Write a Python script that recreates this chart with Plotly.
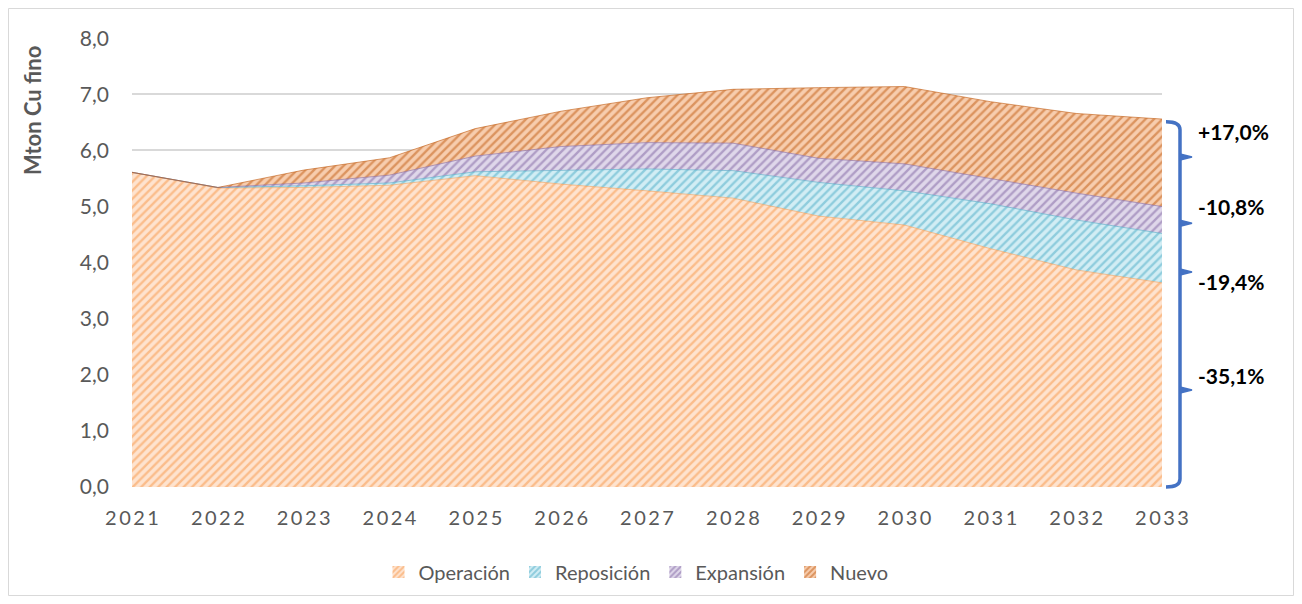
import plotly.graph_objects as go

years = [2021, 2022, 2023, 2024, 2025, 2026, 2027, 2028, 2029, 2030, 2031, 2032, 2033]
operacion = [5.61, 5.33, 5.34, 5.38, 5.55, 5.40, 5.28, 5.15, 4.83, 4.67, 4.25, 3.87, 3.64]
reposicion = [0.00, 0.01, 0.03, 0.04, 0.07, 0.25, 0.39, 0.49, 0.60, 0.61, 0.80, 0.89, 0.88]
expansion = [0.00, 0.00, 0.05, 0.14, 0.28, 0.42, 0.47, 0.49, 0.43, 0.48, 0.45, 0.48, 0.48]
nuevo = [0.00, 0.00, 0.23, 0.31, 0.49, 0.63, 0.80, 0.96, 1.26, 1.38, 1.37, 1.42, 1.56]

series_names = ["Operación", "Reposición", "Expansión", "Nuevo"]
fg_colors = ["#F79646", "#4BACC6", "#8064A2", "#C05A0F"]
bg_colors = ["#FEE3CF", "#D2EDF4", "#DFD7EA", "#F7CDAE"]
edge_colors = ["rgba(247,150,70,0.55)", "rgba(75,172,198,0.6)", "rgba(128,100,162,0.6)", "rgba(192,90,15,0.6)"]

pct_labels = ["+17,0%", "-10,8%", "-19,4%", "-35,1%"]
pct_label_px = [131.7, 206.7, 281.7, 375.0]

year_ticktext = ["\u2009".join(str(y)) for y in years]

GRAY = "#595959"
FONT = "Lato"

fig = go.Figure()
for name, vals, fg, bg, ec in zip(series_names, [operacion, reposicion, expansion, nuevo],
                                  fg_colors, bg_colors, edge_colors):
    fig.add_trace(go.Scatter(
        x=years, y=vals, name=name, mode="lines", stackgroup="one",
        line=dict(width=1, color=ec),
        fillcolor=bg,
        fillpattern=dict(shape="/", fgcolor=fg, bgcolor=bg, size=6, solidity=0.4),
        showlegend=False, hoverinfo="skip",
    ))
    # legend swatch
    fig.add_trace(go.Bar(
        x=[None], y=[None], name=name,
        marker=dict(color=bg, line=dict(width=0),
                    pattern=dict(shape="/", fgcolor=fg, bgcolor=bg, size=5, solidity=0.5)),
        showlegend=True,
    ))

# page offset: the html body has an 8px margin
OFF = 8
W, H = 1302 - 2 * OFF, 604 - 2 * OFF
# plot area geometry in page pixels
L, R, T, B = 132, 1162, 38, 487
PW, PH = R - L, B - T

def px_x(px):
    return (px - L) / PW

def px_y(py):
    return (B - py) / PH

annotations = []
for lab, py in zip(pct_labels, pct_label_px):
    annotations.append(dict(
        text=f"<b>{lab}</b>", x=px_x(1196), y=px_y(py), xref="paper", yref="paper",
        xanchor="left", yanchor="middle", showarrow=False,
        font=dict(family=FONT, size=21, color="#000000"),
    ))
annotations.append(dict(
    text="<b>Mton Cu fino</b>", x=px_x(32), y=px_y(111), xref="paper", yref="paper",
    xanchor="center", yanchor="middle", textangle=-90, showarrow=False,
    font=dict(family=FONT, size=22, color=GRAY),
))

# bracket on the right
bx0, bx1, bx2 = px_x(1166), px_x(1180), px_x(1192)
top, bot = px_y(121.7), px_y(487)
dy = 8 / PH
brace = (f"M {bx0},{top} Q {bx1},{top} {bx1},{top - dy} "
         f"L {bx1},{bot + dy} Q {bx1},{bot} {bx0},{bot}")
shapes = [dict(type="path", path=brace, xref="paper", yref="paper",
               line=dict(color="#4472C4", width=3.5))]
for py in [157, 223.3, 272, 390]:
    y = px_y(py)
    shapes.append(dict(type="path", xref="paper", yref="paper",
                       path=f"M {bx1},{y + 3/PH} L {bx2},{y} L {bx1},{y - 3/PH} Z",
                       fillcolor="#4472C4", line=dict(color="#4472C4", width=1.5)))
# outer chart border
shapes.append(dict(type="rect", xref="paper", yref="paper",
                   x0=px_x(8.5), x1=px_x(1293.5), y0=px_y(595.5), y1=px_y(8.5),
                   line=dict(color="#D9D9D9", width=1), layer="below"))

fig.update_layout(
    width=W, height=H,
    margin=dict(l=L - OFF, r=W - (R - OFF), t=T - OFF, b=H - (B - OFF), pad=0),
    paper_bgcolor="white", plot_bgcolor="white",
    separators=",.",
    font=dict(family=FONT, color=GRAY, size=20),
    xaxis=dict(range=[2021, 2033], tickvals=years, ticktext=year_ticktext,
               showgrid=False, zeroline=False, showline=False, ticks="",
               tickfont=dict(family=FONT, size=20, color=GRAY), ticklabelstandoff=17,
               fixedrange=True),
    yaxis=dict(range=[0, 8.005], tickvals=[0, 1, 2, 3, 4, 5, 6, 7, 8], tickformat=".1f",
               showgrid=True, gridcolor="#D9D9D9", gridwidth=1.5, zeroline=False,
               showline=False, ticks="", tickfont=dict(family=FONT, size=21, color=GRAY),
               ticklabelstandoff=22),
    legend=dict(orientation="h", xref="container", yref="container",
                x=(636 - OFF) / W, y=1 - (572 - OFF) / H, xanchor="center", yanchor="middle",
                font=dict(family=FONT, size=20, color=GRAY), itemwidth=30,
                traceorder="normal", bgcolor="rgba(0,0,0,0)"),
    annotations=annotations,
    shapes=shapes,
    showlegend=True,
    barmode="overlay",
)

fig.write_html("out.html")
